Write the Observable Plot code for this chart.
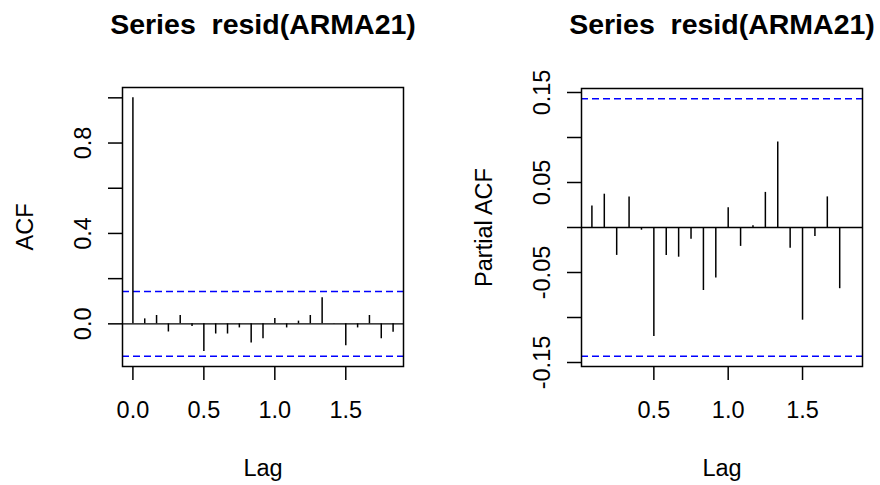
<!DOCTYPE html>
<html>
<head>
<meta charset="utf-8">
<script src="https://cdn.jsdelivr.net/npm/d3@7"></script>
<script src="https://cdn.jsdelivr.net/npm/@observablehq/plot@0.6"></script>
<style>
  html, body { margin: 0; padding: 0; background: #fff; }
  #wrap { display: flex; width: 880px; height: 485px; }
  svg text { white-space: pre; }
</style>
</head>
<body>
<div id="wrap"></div>
<script>
// ---- data ----
const title = "Series  resid(ARMA21)";
const frequency = 12;
const acfLagIndex = [0,1,2,3,4,5,6,7,8,9,10,11,12,13,14,15,16,17,18,19,20,21,22];
const acfValues = [1.000, 0.022, 0.037, -0.036, 0.037, -0.012, -0.122, -0.045, -0.045, -0.018, -0.085, -0.066,
                   0.024, -0.018, 0.012, 0.037, 0.116, -0.001, -0.097, -0.018, 0.037, -0.066, -0.037];
const pacfLagIndex = [1,2,3,4,5,6,7,8,9,10,11,12,13,14,15,16,17,18,19,20,21,22];
const pacfValues = [0.024, 0.037, -0.031, 0.034, -0.003, -0.121, -0.031, -0.033, -0.013, -0.070, -0.056,
                    0.022, -0.021, 0.002, 0.039, 0.095, -0.023, -0.103, -0.010, 0.034, -0.068, -0.001];
const ciBound = 0.143;
const acfYTicks = [0, 0.2, 0.4, 0.6, 0.8, 1.0];
const acfYLabels = [0, 0.4, 0.8];
const acfXTicks = [0, 0.5, 1.0, 1.5];
const pacfYTicks = [-0.15, -0.10, -0.05, 0, 0.05, 0.10, 0.15];
const pacfYLabels = [-0.15, -0.05, 0.05, 0.15];
const pacfXTicks = [0.5, 1.0, 1.5];

const acfData = acfLagIndex.map((k, i) => ({lag: k / frequency, value: acfValues[i]}));
const pacfData = pacfLagIndex.map((k, i) => ({lag: k / frequency, value: pacfValues[i]}));

const FONT = "'Liberation Sans', Arial, sans-serif";
const AX = 23.5;   // axis font size
const TT = 28.5;   // title font size

function extend(lo, hi) { const r = hi - lo; return [lo - 0.04 * r, hi + 0.04 * r]; }

function panel({data, xTicks, yTicks, yLabels, yFmt, ylabel, ml, mr, mt, mb}) {
  const lags = data.map(d => d.lag);
  const vals = data.map(d => d.value);
  const xDomain = extend(d3.min(lags), d3.max(lags));
  const yDomain = extend(Math.min(d3.min(vals), -ciBound), Math.max(d3.max(vals), ciBound));
  return Plot.plot({
    width: 440,
    height: 485,
    marginLeft: ml, marginRight: mr, marginTop: mt, marginBottom: mb,
    style: {fontFamily: FONT, fontSize: AX + "px", color: "black", background: "white", overflow: "visible"},
    x: {domain: xDomain},
    y: {domain: yDomain},
    marks: [
      Plot.ruleY([0], {stroke: "black", strokeWidth: 1.4}),
      Plot.ruleY([ciBound, -ciBound], {stroke: "#0000FF", strokeWidth: 1.5, strokeDasharray: "7,4"}),
      Plot.ruleX(data, {x: "lag", y1: 0, y2: "value", stroke: "black", strokeWidth: 1.5}),
      Plot.frame({stroke: "black", strokeWidth: 1.5}),
      Plot.axisX({ticks: xTicks, tickSize: 14, tickPadding: 21, strokeWidth: 1.5, fontSize: AX,
                  tickFormat: d => d.toFixed(1), label: null}),
      Plot.axisY({ticks: yTicks, tickSize: 14, strokeWidth: 1.5, fill: "none", label: null}),
      Plot.axisY({ticks: yLabels, tickSize: 0, tickPadding: 32, tickRotate: -90, fontSize: AX,
                  tickFormat: yFmt, label: null}),
      Plot.text([ylabel], {text: d => d, frameAnchor: "left", dx: -90, rotate: -90,
                           lineAnchor: "bottom", textAnchor: "middle", fontSize: AX, fill: "black"}),
      Plot.text(["Lag"], {text: d => d, frameAnchor: "bottom", dy: 109, lineAnchor: "bottom",
                          textAnchor: "middle", fontSize: AX, fill: "black"}),
      Plot.text([title], {text: d => d, frameAnchor: "top", dy: 33 - mt, lineAnchor: "bottom",
                          textAnchor: "middle", fontSize: TT, fontWeight: "bold", fill: "black"})
    ]
  });
}

const wrap = document.getElementById("wrap");
wrap.appendChild(panel({
  data: acfData, xTicks: acfXTicks, yTicks: acfYTicks, yLabels: acfYLabels,
  yFmt: d => d.toFixed(1), ylabel: "ACF", ml: 122, mr: 37, mt: 87, mb: 119
}));
wrap.appendChild(panel({
  data: pacfData, xTicks: pacfXTicks, yTicks: pacfYTicks, yLabels: pacfYLabels,
  yFmt: d => d.toFixed(2), ylabel: "Partial ACF", ml: 141, mr: 18, mt: 88, mb: 119
}));
</script>
</body>
</html>
